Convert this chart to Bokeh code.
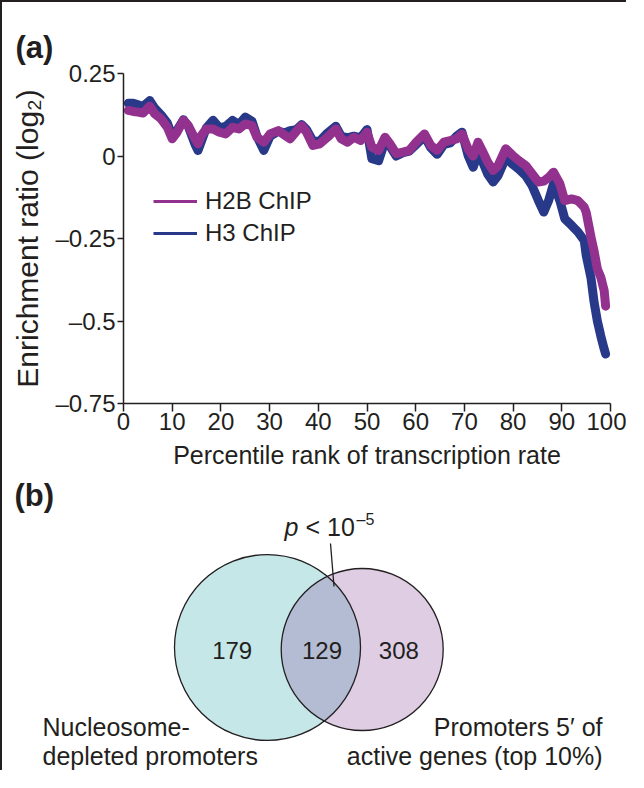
import numpy as np
from bokeh.plotting import figure
from bokeh.models import Range1d, FixedTicker, Legend, LegendItem, Label, ColumnDataSource
from bokeh.embed import file_html
from bokeh.resources import INLINE

# ---------------- data ----------------
percentile = [1.0, 2.0, 3.0, 4.0, 5.4, 6.4, 7.7, 9.0, 10.0, 11.0, 12.3, 13.3, 14.7, 15.3, 16.0,
              17.0, 18.4, 19.7, 21.0, 22.4, 23.7, 25.0, 26.4, 27.4, 28.8, 30.1, 31.8, 33.2,
              34.2, 35.5, 36.6, 37.6, 38.9, 40.3, 41.9, 43.6, 44.7, 46.0, 47.3, 48.7, 50.0,
              51.0, 52.4, 53.7, 54.7, 56.0, 57.4, 58.7, 60.1, 61.8, 63.1, 64.4, 65.8, 67.1,
              68.4, 69.5, 70.8, 71.8, 72.8, 73.8, 74.8, 75.9, 76.9, 78.5, 79.9, 81.2, 82.6,
              83.9, 85.2, 86.3, 87.3, 88.3, 89.6, 90.6, 92.0, 93.3, 94.6, 95.0, 96.0, 96.6,
              97.3, 98.0, 98.7, 99.0]
h2b = [0.138, 0.135, 0.133, 0.130, 0.151, 0.128, 0.113, 0.087, 0.052, 0.072, 0.108, 0.092,
       0.052, 0.037, 0.062, 0.082, 0.082, 0.072, 0.067, 0.087, 0.082, 0.097, 0.092, 0.057,
       0.042, 0.067, 0.077, 0.062, 0.052, 0.075, 0.092, 0.072, 0.032, 0.037, 0.057, 0.082,
       0.052, 0.042, 0.057, 0.047, 0.072, 0.027, 0.017, 0.057, 0.037, 0.007, 0.012, 0.017,
       0.042, 0.067, 0.032, 0.017, 0.042, 0.047, 0.052, 0.067, 0.020, 0.000, 0.042, 0.012,
       -0.019, -0.044, -0.029, 0.022, 0.002, -0.014, -0.029, -0.054, -0.079, -0.076, -0.065,
       -0.049, -0.084, -0.135, -0.130, -0.135, -0.155, -0.170, -0.246, -0.286, -0.342,
       -0.367, -0.408, -0.455]
h3 = [0.160, 0.160, 0.155, 0.150, 0.168, 0.145, 0.125, 0.100, 0.060, 0.078, 0.110, 0.090,
      0.035, 0.017, 0.045, 0.085, 0.108, 0.085, 0.090, 0.108, 0.095, 0.118, 0.105, 0.060,
      0.017, 0.060, 0.075, 0.070, 0.077, 0.080, 0.095, 0.080, 0.045, 0.045, 0.070, 0.090,
      0.060, 0.055, 0.060, 0.055, 0.080, -0.008, -0.014, 0.045, 0.030, 0.000, 0.010, 0.015,
      0.035, 0.060, 0.025, 0.005, 0.035, 0.040, 0.060, 0.072, 0.000, -0.034, 0.010, -0.020,
      -0.055, -0.079, -0.060, -0.005, -0.025, -0.040, -0.060, -0.090, -0.135, -0.170,
      -0.135, -0.084, -0.135, -0.190, -0.210, -0.230, -0.256, -0.300, -0.370, -0.440,
      -0.500, -0.545, -0.585, -0.600]
series_names = ["H2B ChIP", "H3 ChIP"]
x_ticks = [0, 10, 20, 30, 40, 50, 60, 70, 80, 90, 100]
y_ticks = [-0.75, -0.5, -0.25, 0, 0.25]
y_tick_labels = ["\u20130.75", "\u20130.5", "\u20130.25", "0", "0.25"]
x_title = "Percentile rank of transcription rate"
y_title = "Enrichment ratio (log\u2082)"

venn_counts = [179, 129, 308]
venn_set_a = ["Nucleosome-", "depleted promoters"]
venn_set_b = ["Promoters 5\u2032 of", "active genes (top 10%)"]
p_text = ["p", "< 10", "\u20135"]

# ---------------- style ----------------
FONT = "Liberation Sans"
TXT = "#231f20"
C_H2B = "#93328e"
C_H3 = "#29398a"
C_A = "#c6e7e8"
C_B = "#dfcde4"
C_AB = "#b4bcd3"
FS = "24px"
FRAME = "2px solid #231f20"

# ---------------- panel (a) ----------------
p1 = figure(width=626, height=476, x_range=Range1d(0, 100), y_range=Range1d(-0.75, 0.25),
            output_backend="svg", toolbar_location=None,
            min_border_left=121, min_border_right=18, min_border_top=71, min_border_bottom=75,
            styles={"border-left": FRAME, "border-top": FRAME})
p1.grid.visible = False
p1.outline_line_color = None
p1.background_fill_color = "white"
p1.border_fill_color = "white"

src = ColumnDataSource(dict(x=percentile, h2b=h2b, h3=h3))
# thin lines (used for the legend swatches), hidden beneath the thick bands
leg_h2b = p1.line("x", "h2b", source=src, line_width=3, color=C_H2B)
leg_h3 = p1.line("x", "h3", source=src, line_width=3, color=C_H3)
p1.line("x", "h3", source=src, line_width=9, color=C_H3, line_join="round", line_cap="round")
p1.line("x", "h2b", source=src, line_width=9, color=C_H2B, line_join="round", line_cap="round")

legend = Legend(items=[LegendItem(label=series_names[0], renderers=[leg_h2b]),
                       LegendItem(label=series_names[1], renderers=[leg_h3])],
                location=(30, 154), padding=0, margin=0, spacing=0,
                glyph_width=44, glyph_height=32, label_height=32, label_standoff=8,
                border_line_color=None, background_fill_alpha=0,
                label_text_font=FONT, label_text_font_size=FS, label_text_color=TXT)
p1.add_layout(legend)

p1.xaxis.ticker = FixedTicker(ticks=x_ticks)
p1.yaxis.ticker = FixedTicker(ticks=y_ticks)
p1.yaxis.major_label_overrides = {t: l for t, l in zip(y_ticks, y_tick_labels)}
p1.xaxis.axis_label = x_title
p1.yaxis.axis_label = y_title
for ax in (p1.xaxis[0], p1.yaxis[0]):
    ax.axis_line_color = TXT
    ax.axis_line_width = 1.5
    ax.major_tick_line_color = TXT
    ax.major_tick_line_width = 1.5
    ax.major_tick_in = 0
    ax.minor_tick_line_color = None
    ax.major_label_text_font = FONT
    ax.major_label_text_font_size = FS
    ax.major_label_text_color = TXT
    ax.axis_label_text_font = FONT
    ax.axis_label_text_font_style = "normal"
    ax.axis_label_text_color = TXT
p1.xaxis.axis_label_text_font_size = "25px"
p1.yaxis.axis_label_text_font_size = "30px"
p1.xaxis.major_tick_out = 8
p1.xaxis.major_label_standoff = 1
p1.xaxis.axis_label_standoff = 8
p1.yaxis.major_tick_out = 6
p1.yaxis.major_label_standoff = 2
p1.yaxis.axis_label_standoff = 8

p1.title.text = "(a)"
p1.title.align = "left"
p1.title.offset = -108
p1.title.standoff = 18
p1.title.text_font = FONT
p1.title.text_font_size = "31px"
p1.title.text_font_style = "bold"
p1.title.text_color = TXT

# ---------------- panel (b) ----------------
p2 = figure(width=626, height=294, x_range=Range1d(2, 628), y_range=Range1d(772, 478),
            output_backend="svg", toolbar_location=None, min_border=0,
            styles={"border-left": FRAME})
p2.axis.visible = False
p2.grid.visible = False
p2.outline_line_color = None

ca = (267.0, 649.0, 93.0)
cb = (361.7, 651.0, 81.0)
p2.circle(x=[ca[0]], y=[ca[1]], radius=ca[2], fill_color=C_A, line_color=None)
p2.circle(x=[cb[0]], y=[cb[1]], radius=cb[2], fill_color=C_B, line_color=None)

# lens (intersection) polygon
ta = np.linspace(-np.pi, np.pi, 1441)
ax_, ay_ = ca[0] + ca[2] * np.cos(ta), ca[1] + ca[2] * np.sin(ta)
ina = (ax_ - cb[0]) ** 2 + (ay_ - cb[1]) ** 2 <= cb[2] ** 2
tb = np.linspace(0, 2 * np.pi, 1441)
bx_, by_ = cb[0] + cb[2] * np.cos(tb), cb[1] + cb[2] * np.sin(tb)
inb = (bx_ - ca[0]) ** 2 + (by_ - ca[1]) ** 2 <= ca[2] ** 2
lx = np.concatenate([ax_[ina], bx_[inb]])
ly = np.concatenate([ay_[ina], by_[inb]])
p2.patch(lx, ly, fill_color=C_AB, line_color=None)

p2.circle(x=[ca[0], cb[0]], y=[ca[1], cb[1]], radius=[ca[2], cb[2]], fill_color=None,
          line_color=TXT, line_width=1.3)

# leader line
p2.line([330, 333.5], [545, 588], line_color=TXT, line_width=1.3)

for xpos, cnt in zip([231.7, 321.5, 398.3], venn_counts):
    p2.add_layout(Label(x=xpos, y=652, text=str(cnt), text_font=FONT, text_font_size=FS,
                        text_color=TXT, text_align="center", text_baseline="middle"))

p2.add_layout(Label(x=284, y=528, text=p_text[0], text_font=FONT, text_font_size="25px",
                    text_font_style="italic", text_color=TXT, text_baseline="middle"))
p2.add_layout(Label(x=305, y=528, text=p_text[1], text_font=FONT, text_font_size="25px",
                    text_color=TXT, text_baseline="middle"))
p2.add_layout(Label(x=356, y=521, text=p_text[2], text_font=FONT, text_font_size="16px",
                    text_color=TXT, text_baseline="middle"))

for i, t in enumerate(venn_set_a):
    p2.add_layout(Label(x=42, y=728 + 29 * i, text=t, text_font=FONT, text_font_size="25px",
                        text_color=TXT, text_baseline="middle"))
for i, t in enumerate(venn_set_b):
    p2.add_layout(Label(x=602, y=728 + 29 * i, text=t, text_font=FONT, text_font_size="25px",
                        text_color=TXT, text_align="right", text_baseline="middle"))

p2.add_layout(Label(x=14, y=497, text="(b)", text_font=FONT, text_font_size="31px",
                    text_font_style="bold", text_color=TXT, text_baseline="middle"))

open("out.html", "w").write(file_html([p1, p2], INLINE))
